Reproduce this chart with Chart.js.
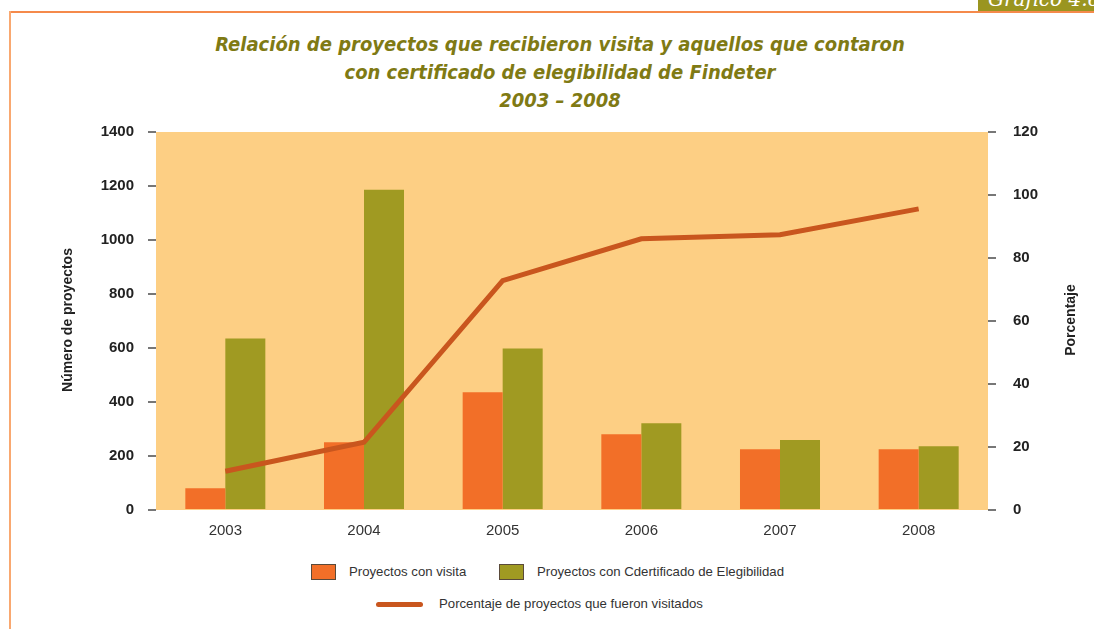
<!DOCTYPE html>
<html>
<head>
<meta charset="utf-8">
<script src="https://cdn.jsdelivr.net/npm/chart.js@4"></script>
<style>
  body { margin: 0; width: 1094px; height: 629px; background: #fff; position: relative; overflow: hidden; font-family: 'Liberation Sans', Arial, sans-serif; }
  .frame-top { position: absolute; left: 10px; top: 11px; width: 1084px; height: 2px; background: #f58a4b; }
  .frame-left { position: absolute; left: 9px; top: 11px; width: 2px; height: 618px; background: #f9a870; }
  .tag { position: absolute; left: 978px; top: 0; width: 116px; height: 11px; background: #9a9520; overflow: hidden; }
  .tag span { position: absolute; left: 10px; top: -13px; color: #fff; font: italic 20px 'DejaVu Serif', serif; white-space: nowrap; }
  .title { position: absolute; left: 0; top: 30px; width: 1120px; text-align: center; color: #7f7a14;
           font: italic bold 20px 'DejaVu Sans Condensed', 'DejaVu Sans', sans-serif; line-height: 28px; }
  .wrap { position: absolute; left: 0; top: 106px; width: 1094px; height: 444px; }
  .legend { position: absolute; font-size: 13.2px; color: #333; }
  .legend .item { position: absolute; white-space: nowrap; }
  .box { position: absolute; width: 23px; height: 14px; border: 1px solid #5a4a3a; }
  .line { position: absolute; width: 47px; height: 5px; border-radius: 3px; background: #c9561e; }
</style>
</head>
<body>
<div class="frame-top"></div>
<div class="frame-left"></div>
<div class="tag"><span>Gráfico 4.6</span></div>
<div class="title">Relación de proyectos que recibieron visita y aquellos que contaron<br>con certificado de elegibilidad de Findeter<br>2003 – 2008</div>
<div class="wrap"><canvas id="chart"></canvas></div>
<div class="legend">
  <div class="box" style="left:311px;top:564px;background:#f26f28"></div>
  <div class="item" style="left:349px;top:564px">Proyectos con visita</div>
  <div class="box" style="left:499px;top:564px;background:#a09a22"></div>
  <div class="item" style="left:537px;top:564px">Proyectos con Cdertificado de Elegibilidad</div>
  <div class="line" style="left:376px;top:602px"></div>
  <div class="item" style="left:439px;top:596px">Porcentaje de proyectos que fueron visitados</div>
</div>
<script>
  const years = ['2003', '2004', '2005', '2006', '2007', '2008'];
  const conVisita = [81, 251, 436, 281, 225, 225];
  const conCertificado = [635, 1186, 598, 321, 259, 236];
  const porcentaje = [12.3, 21.5, 72.8, 86.1, 87.4, 95.6];

  const plotBg = {
    id: 'plotBg',
    beforeDraw(chart) {
      const { ctx, chartArea: a } = chart;
      ctx.save();
      ctx.fillStyle = '#fdcf84';
      ctx.fillRect(a.left, a.top, a.right - a.left, a.bottom - a.top);
      ctx.restore();
    },
  };

  // both axis titles read bottom-to-top, so draw them by hand
  const axisTitles = {
    id: 'axisTitles',
    afterDraw(chart) {
      const ctx = chart.ctx;
      ctx.save();
      ctx.font = 'bold 14px "Liberation Sans", Arial, sans-serif';
      ctx.fillStyle = '#222';
      ctx.textAlign = 'center';
      ctx.textBaseline = 'middle';
      [[68, 214, 'Número de proyectos'], [1071, 214, 'Porcentaje']].forEach(([x, y, t]) => {
        ctx.save();
        ctx.translate(x, y);
        ctx.rotate(-Math.PI / 2);
        ctx.fillText(t, 0, 0);
        ctx.restore();
      });
      ctx.restore();
    },
  };

  const tickFont = { family: 'Liberation Sans', size: 15, weight: 'bold' };

  new Chart(document.getElementById('chart'), {
    data: {
      labels: years,
      datasets: [
        {
          type: 'line',
          label: 'Porcentaje de proyectos que fueron visitados',
          data: porcentaje,
          yAxisID: 'y1',
          borderColor: '#c9561e',
          borderWidth: 5,
          pointRadius: 0,
          tension: 0,
          order: 0,
        },
        {
          type: 'bar',
          label: 'Proyectos con visita',
          data: conVisita,
          backgroundColor: '#f26f28',
          categoryPercentage: 0.577,
          barPercentage: 1,
          order: 1,
        },
        {
          type: 'bar',
          label: 'Proyectos con Cdertificado de Elegibilidad',
          data: conCertificado,
          backgroundColor: '#a09a22',
          categoryPercentage: 0.577,
          barPercentage: 1,
          order: 1,
        },
      ],
    },
    options: {
      responsive: true,
      maintainAspectRatio: false,
      animation: false,
      layout: { padding: { top: 11, left: 0, right: 0, bottom: 0 } },
      plugins: { legend: { display: false }, tooltip: { enabled: false } },
      scales: {
        x: {
          grid: { display: false, drawTicks: false },
          border: { display: false },
          ticks: { color: '#333', padding: 12, font: { family: 'Liberation Sans', size: 15 } },
          afterFit: (s) => { s.height = 40; },
        },
        y: {
          position: 'left',
          min: 0, max: 1400,
          grid: { drawOnChartArea: false, tickLength: 8, tickColor: '#777', lineWidth: 2 },
          border: { display: false },
          ticks: { stepSize: 200, color: '#222', padding: 14, font: tickFont, callback: (v) => String(v) },
          afterFit: (s) => { s.width = 156; },
        },
        y1: {
          position: 'right',
          min: 0, max: 120,
          grid: { drawOnChartArea: false, tickLength: 8, tickColor: '#777', lineWidth: 2 },
          border: { display: false },
          ticks: { stepSize: 20, color: '#222', padding: 17, font: tickFont, callback: (v) => String(v) },
          afterFit: (s) => { s.width = 106; },
        },
      },
    },
    plugins: [plotBg, axisTitles],
  });
</script>
</body>
</html>
